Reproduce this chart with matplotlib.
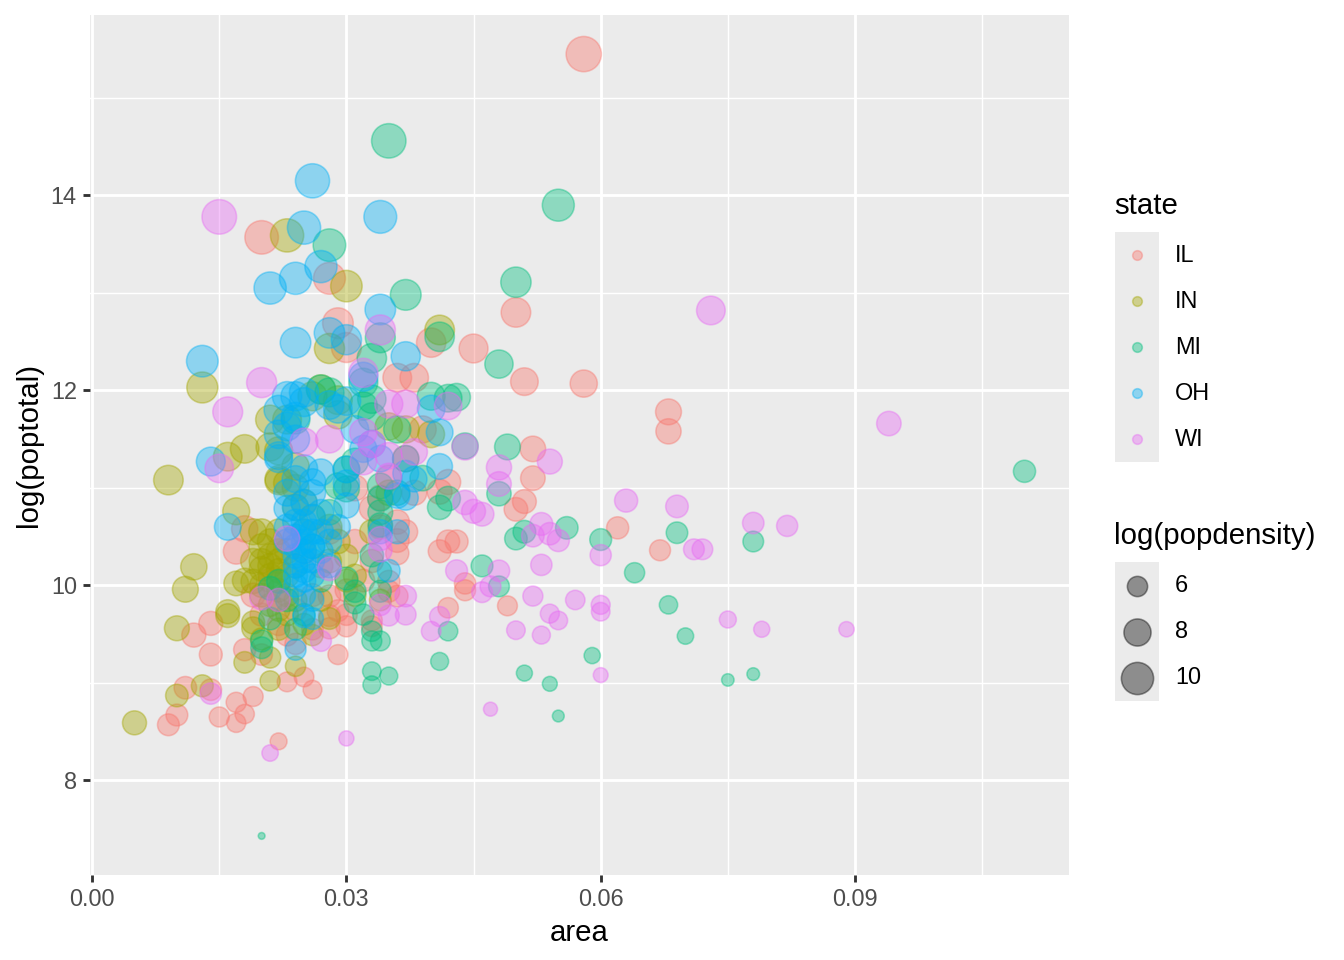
import numpy as np
import matplotlib
matplotlib.use("Agg")
import matplotlib.pyplot as plt
from matplotlib.patches import Rectangle

plt.rcParams['font.family'] = ['Liberation Sans', 'DejaVu Sans']

# area (in thousandths) and log(poptotal) per county
il_area = [58, 20, 28, 29, 30, 40, 45, 50, 51, 58, 68, 68, 38, 36, 52, 52, 51, 50, 62, 67,
           42, 43, 41, 44, 44, 42, 49, 17, 14, 12, 14, 11, 14, 10, 9, 17, 19, 18, 15, 17,
           22, 18, 20, 23, 25, 26, 29, 30, 23, 28, 33, 35, 36, 28, 29, 28, 36, 36, 35, 33,
           30, 41, 36, 37, 33, 42, 39, 37, 35, 34, 38, 34, 31, 27, 26, 24, 22, 21, 25, 32,
           33, 30, 22, 24, 26, 31, 28, 20, 19, 18]
il_logpop = [15.45, 13.57, 13.15, 12.69, 12.44, 12.49, 12.43, 12.80, 12.09, 12.07, 11.78, 11.58, 12.13, 12.13, 11.40, 11.10, 10.86, 10.78, 10.59, 10.36,
             10.45, 10.45, 10.35, 10.02, 9.95, 9.77, 9.79, 10.35, 9.61, 9.49, 9.29, 8.95, 8.93, 8.67, 8.57, 8.80, 8.86, 8.68, 8.65, 8.59,
             8.40, 9.34, 9.29, 9.01, 9.06, 8.93, 9.29, 9.58, 9.49, 9.69, 9.64, 10.04, 9.89, 9.89, 9.74, 9.56, 10.46, 10.33, 9.94, 9.58,
             9.70, 10.96, 10.65, 10.55, 10.79, 11.06, 11.60, 11.30, 11.10, 10.90, 10.95, 10.60, 10.45, 10.20, 9.90, 9.75, 9.85, 10.05, 10.35, 10.05,
             10.25, 9.95, 9.60, 9.40, 9.55, 11.00, 10.55, 9.70, 9.90, 10.58]

in_area = [23, 30, 28, 41, 13, 9, 18, 16, 17, 19, 12, 22, 22, 11, 10, 16, 16, 19, 18, 21,
           21, 24, 10, 13, 5, 19, 20, 26, 28, 20, 21, 21, 21, 22, 22, 22, 22, 23, 23, 20,
           21, 22, 23, 20, 21, 22, 23, 24, 24, 20, 22, 25, 21, 21, 22, 24, 35, 37, 27, 26,
           29, 23, 29, 29, 28, 30, 33, 34, 26, 27, 30, 31, 25, 24, 23, 24, 35, 40, 19, 20,
           18, 19, 17, 20, 25, 28, 31, 22]
in_logpop = [13.59, 13.07, 12.43, 12.62, 12.03, 11.08, 11.40, 11.32, 10.76, 10.55, 10.19, 11.38, 11.07, 9.96, 9.56, 9.73, 9.69, 9.56, 9.21, 9.26,
             9.02, 9.17, 8.87, 8.97, 8.59, 10.04, 10.17, 9.49, 9.66, 10.40, 10.30, 10.20, 10.10, 10.25, 10.15, 10.05, 9.95, 10.10, 9.90, 10.25,
             10.45, 10.35, 10.35, 9.90, 9.80, 9.75, 9.70, 9.85, 10.20, 10.55, 10.55, 9.60, 11.42, 11.70, 11.09, 11.22, 11.63, 11.60, 12.01, 11.94,
             11.75, 11.70, 11.90, 10.45, 10.60, 10.30, 10.55, 9.85, 10.70, 9.85, 10.05, 10.10, 10.85, 11.00, 11.05, 10.80, 10.95, 11.55, 10.25, 10.00,
             10.05, 9.62, 10.02, 9.45, 10.55, 10.25, 9.90, 9.55]

mi_area = [35, 55, 28, 37, 50, 41, 33, 48, 43, 34, 110, 78, 69, 64, 60, 56, 68, 70, 59, 51,
           54, 55, 75, 78, 20, 41, 42, 46, 49, 48, 50, 51, 48, 20, 20, 21, 21, 31, 31, 33,
           33, 34, 33, 33, 35, 34, 34, 30, 33, 22, 28, 27, 32, 33, 30, 31, 30, 34, 34, 34,
           34, 42, 24, 29, 40, 44, 42, 32, 33, 36, 26, 25, 27, 28, 36, 37, 23, 24, 32, 39, 41]
mi_logpop = [14.56, 13.90, 13.49, 12.98, 13.11, 12.55, 12.33, 12.27, 11.93, 12.54, 11.17, 10.45, 10.54, 10.13, 10.47, 10.59, 9.80, 9.48, 9.28, 9.10,
             8.99, 8.66, 9.03, 9.09, 7.43, 9.22, 9.53, 10.20, 11.42, 10.94, 10.48, 10.55, 9.99, 9.43, 9.36, 9.66, 9.97, 9.82, 9.94, 9.53,
             9.43, 9.43, 9.12, 8.98, 9.07, 9.94, 10.14, 10.07, 10.31, 10.04, 11.98, 12.01, 11.84, 11.73, 11.19, 11.27, 10.99, 11.02, 10.89, 10.75,
             10.62, 10.89, 11.70, 11.02, 11.94, 11.43, 11.92, 12.08, 11.91, 11.60, 10.40, 9.70, 10.05, 10.75, 10.95, 11.30, 9.85, 9.55, 9.70, 11.10, 10.80]

oh_area = [26, 34, 25, 27, 24, 21, 34, 24, 28, 30, 13, 37, 32, 14, 16, 22, 24, 25, 22, 30,
           40, 41, 23, 25, 29, 23, 24, 22, 27, 26, 24, 23, 30, 30, 34, 41, 38, 36, 34, 31,
           32, 24, 25, 26, 24, 24, 24, 24, 24, 24, 25, 25, 25, 25, 25, 25, 25, 26, 26, 26,
           26, 26, 24, 24, 23, 23, 27, 27, 28, 25, 26, 23, 25, 26, 28, 27, 29, 24, 25, 30,
           36, 37, 33, 37, 35, 28, 22]
oh_logpop = [14.15, 13.78, 13.67, 13.27, 13.15, 13.05, 12.83, 12.49, 12.59, 12.52, 12.30, 12.35, 12.14, 11.27, 10.60, 11.30, 11.94, 11.88, 11.80, 11.89,
             11.81, 11.57, 11.94, 11.98, 11.81, 11.63, 11.73, 11.33, 11.16, 11.06, 11.09, 10.79, 11.19, 10.82, 11.30, 11.22, 11.09, 10.92, 10.55, 11.60,
             11.40, 9.34, 9.68, 9.66, 10.00, 10.10, 10.20, 10.30, 10.40, 10.50, 10.05, 10.15, 10.25, 10.35, 10.45, 10.55, 10.65, 10.10, 10.25, 10.40,
             10.55, 10.70, 10.65, 10.80, 10.45, 10.60, 10.35, 10.55, 10.45, 9.90, 9.85, 10.95, 10.85, 10.95, 10.20, 10.75, 10.60, 11.50, 11.20, 11.05,
             10.55, 10.90, 11.45, 11.15, 10.15, 11.85, 11.55]

wi_area = [15, 73, 34, 32, 20, 16, 15, 94, 82, 78, 72, 71, 69, 63, 60, 60, 60, 60, 57, 89,
           79, 75, 47, 30, 21, 14, 43, 48, 46, 47, 52, 54, 55, 50, 53, 41, 40, 53, 45, 46,
           44, 52, 53, 54, 55, 54, 48, 48, 44, 42, 25, 28, 32, 35, 37, 35, 38, 32, 35, 23,
           34, 28, 20, 22, 27, 34, 34, 35, 37, 37, 33]
wi_logpop = [13.78, 12.82, 12.62, 12.18, 12.08, 11.78, 11.20, 11.66, 10.61, 10.64, 10.37, 10.37, 10.81, 10.87, 10.31, 9.80, 9.73, 9.08, 9.85, 9.55,
             9.55, 9.65, 8.73, 8.43, 8.28, 8.89, 10.15, 10.15, 9.93, 9.99, 9.89, 9.71, 9.64, 9.54, 9.49, 9.68, 9.53, 10.21, 10.76, 10.73,
             10.85, 10.51, 10.63, 10.53, 10.46, 11.27, 11.21, 11.04, 11.42, 11.84, 11.47, 11.50, 11.57, 11.86, 11.86, 11.33, 11.37, 11.27, 11.12, 10.48,
             10.48, 10.17, 9.87, 9.85, 9.43, 10.36, 9.80, 9.69, 9.89, 9.70, 11.45]

states = ['IL', 'IN', 'MI', 'OH', 'WI']
areas = [il_area, in_area, mi_area, oh_area, wi_area]
logpops = [il_logpop, in_logpop, mi_logpop, oh_logpop, wi_logpop]
colors = ['#F8766D', '#A3A500', '#00BF7D', '#00B0F6', '#E76BF3']
size_breaks = [6, 8, 10]

# popdensity = poptotal / (area * 1000)
all_area = np.concatenate([np.array(a) / 1000 for a in areas])
all_lp = np.concatenate([np.array(l) for l in logpops])
all_ld = all_lp - np.log(all_area * 1000)
dmin, dmax = all_ld.min(), all_ld.max()


def diam(v):
    # ggplot scale_size range c(1, 6) -> marker diameter in points
    size_mm = 1 + 5 * np.sqrt(np.clip((np.asarray(v) - dmin) / (dmax - dmin), 0, 1))
    fs = size_mm * 72.27 / 25.4 + 0.945
    return 0.75 * fs


fig = plt.figure(figsize=(7, 5), dpi=192)
W, H = 1344, 960
ax = fig.add_axes([90 / W, 1 - 875 / H, (1069 - 90) / W, (875 - 15) / H])
ax.set_facecolor('#EBEBEB')

for st, a, lp, c in zip(states, areas, logpops, colors):
    x = np.array(a) / 1000
    y = np.array(lp)
    ld = y - np.log(x * 1000)
    d = diam(ld)
    ax.scatter(x, y, s=(d - 0.3) ** 2, color=c, alpha=0.4, edgecolors=c,
               linewidths=0.6, zorder=3)

xr = all_area.max() - all_area.min()
yr = all_lp.max() - all_lp.min()
ax.set_xlim(all_area.min() - 0.05 * xr, all_area.max() + 0.05 * xr)
ax.set_ylim(all_lp.min() - 0.05 * yr, all_lp.max() + 0.05 * yr)

ax.set_xticks([0.00, 0.03, 0.06, 0.09])
ax.set_xticklabels(['0.00', '0.03', '0.06', '0.09'])
ax.set_yticks([8, 10, 12, 14])
ax.set_xticks([0.015, 0.045, 0.075, 0.105], minor=True)
ax.set_yticks([9, 11, 13, 15], minor=True)
ax.grid(which='major', color='white', linewidth=1.07, zorder=0)
ax.grid(which='minor', color='white', linewidth=0.53, zorder=0)
ax.set_axisbelow(True)
for sp in ax.spines.values():
    sp.set_visible(False)
ax.tick_params(which='major', length=2.75, width=1.07, color='#333333',
               labelsize=8.8, labelcolor='#4D4D4D', pad=2.2)
ax.tick_params(which='minor', length=0)
ax.set_xlabel('area', fontsize=11, labelpad=3)
ax.set_ylabel('log(poptotal)', fontsize=11, labelpad=3)

# legends drawn in pixel coordinates
lg = fig.add_axes([0, 0, 1, 1])
lg.set_xlim(0, W)
lg.set_ylim(H, 0)
lg.axis('off')

lg.text(1114, 206, 'state', fontsize=11, va='center', ha='left')
lg.add_patch(Rectangle((1115, 232), 44, 230, facecolor='#EBEBEB', edgecolor='none'))
key_d = 0.75 * (1.5 * 72.27 / 25.4 + 0.945)
for i, (st, c) in enumerate(zip(states, colors)):
    ky = 255 + 46 * i
    lg.scatter([1137], [ky], s=(key_d - 0.3) ** 2, color=c, alpha=0.4,
               edgecolors=c, linewidths=0.6)
    lg.text(1175, ky, st, fontsize=8.8, va='center', ha='left')

lg.text(1114, 536, 'log(popdensity)', fontsize=11, va='center', ha='left')
lg.add_patch(Rectangle((1115, 562), 44, 139, facecolor='#EBEBEB', edgecolor='none'))
for i, b in enumerate(size_breaks):
    ky = 586 + 46 * i
    d = diam(b)
    lg.scatter([1137], [ky], s=(d - 0.3) ** 2, color='black', alpha=0.4,
               edgecolors='black', linewidths=0.6)
    lg.text(1175, ky, str(b), fontsize=8.8, va='center', ha='left')

fig.savefig('out.png', dpi=192)
